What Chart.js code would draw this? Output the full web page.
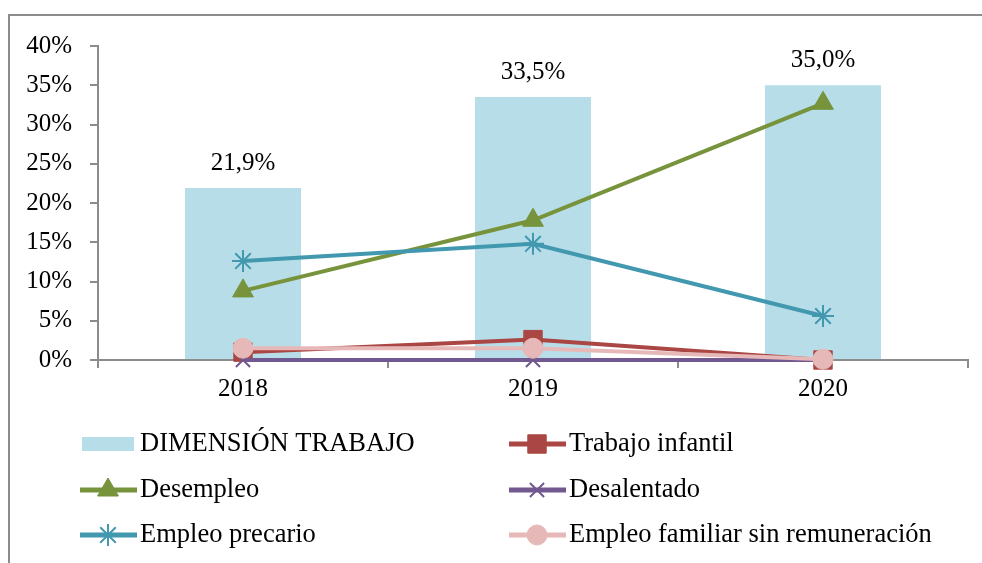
<!DOCTYPE html>
<html>
<head>
<meta charset="utf-8">
<script src="https://cdn.jsdelivr.net/npm/chart.js@4"></script>
<style>
    html, body { margin: 0; padding: 0; background: #fff; overflow: hidden; }
    #frame {
        position: absolute; left: 8px; top: 14px;
        width: 1100px; height: 700px;
        border: 2px solid #8c8c8c; box-sizing: border-box;
    }
    #wrap { position: absolute; left: 0; top: 0; width: 982px; height: 563px; }
</style>
</head>
<body>
<div id="frame"></div>
<div id="wrap"><canvas id="chart"></canvas></div>
<script>
// Data
const years = ['2018', '2019', '2020'];
const dimensionTrabajo = [21.9, 33.5, 35.0];
const trabajoInfantil = [1.0, 2.6, 0];
const desempleo = [8.8, 17.8, 32.7];
const desalentado = [0, 0, 0];
const empleoPrecario = [12.6, 14.8, 5.6];
const empleoFamiliar = [1.5, 1.5, 0.1];
const yTicks = [0, 5, 10, 15, 20, 25, 30, 35, 40];

const FONT = '"Liberation Serif", "Times New Roman", serif';
const AXIS = '#8c8c8c';

function lineSet(label, data, color, style, radius, order, fill) {
    return {
        type: 'line',
        label: label,
        data: data,
        borderColor: color,
        borderWidth: 4,
        pointStyle: style,
        pointRadius: radius,
        pointHoverRadius: radius,
        pointBackgroundColor: fill ? color : 'transparent',
        pointBorderColor: color,
        pointBorderWidth: fill ? 1 : 2,
        tension: 0,
        clip: false,
        order: order
    };
}

// bar value labels like "21,9%"
const barLabels = {
    id: 'barLabels',
    afterDatasetsDraw(chart) {
        const ctx = chart.ctx;
        const meta = chart.getDatasetMeta(0);
        ctx.save();
        ctx.font = '25px ' + FONT;
        ctx.fillStyle = '#000';
        ctx.textAlign = 'center';
        ctx.textBaseline = 'middle';
        meta.data.forEach((bar, i) => {
            const v = chart.data.datasets[0].data[i];
            ctx.fillText(v.toFixed(1).replace('.', ',') + '%', bar.x, bar.y - 25);
        });
        ctx.restore();
    }
};

// two-column legend under the axis
const gridLegend = {
    id: 'gridLegend',
    afterDraw(chart) {
        const ctx = chart.ctx;
        const cols = [80, 509];
        const rows = [444, 490, 535];
        ctx.save();
        ctx.font = '26.5px ' + FONT;
        ctx.textBaseline = 'middle';
        chart.data.datasets.forEach((ds, i) => {
            const x = cols[i % 2];
            const y = rows[Math.floor(i / 2)];
            if (ds.type === 'bar') {
                ctx.fillStyle = ds.backgroundColor;
                ctx.fillRect(x + 2, y - 7, 52, 14);
            } else {
                ctx.strokeStyle = ds.borderColor;
                ctx.lineWidth = 5;
                ctx.beginPath();
                ctx.moveTo(x, y);
                ctx.lineTo(x + 57, y);
                ctx.stroke();
                ctx.fillStyle = ds.pointBackgroundColor;
                ctx.strokeStyle = ds.pointBorderColor;
                ctx.lineWidth = ds.pointBorderWidth;
                Chart.helpers.drawPoint(ctx, {
                    pointStyle: ds.pointStyle,
                    radius: ds.pointRadius,
                    rotation: 0,
                    borderWidth: ds.pointBorderWidth
                }, x + 28, y);
            }
            ctx.fillStyle = '#000';
            ctx.fillText(ds.label, x + 60, y);
        });
        ctx.restore();
    }
};

new Chart(document.getElementById('chart').getContext('2d'), {
    data: {
        labels: years,
        datasets: [
            {
                type: 'bar',
                label: 'DIMENSIÓN TRABAJO',
                data: dimensionTrabajo,
                backgroundColor: '#B7DEE8',
                barPercentage: 0.4,
                categoryPercentage: 1,
                order: 10
            },
            lineSet('Trabajo infantil', trabajoInfantil, '#AA4643', 'rect', 13, 5, true),
            lineSet('Desempleo', desempleo, '#77933C', 'triangle', 12, 4, true),
            lineSet('Desalentado', desalentado, '#71588F', 'crossRot', 10, 3, false),
            lineSet('Empleo precario', empleoPrecario, '#4198AF', 'star', 11, 2, false),
            lineSet('Empleo familiar sin remuneración', empleoFamiliar, '#E6B9B8', 'circle', 10, 1, true)
        ]
    },
    options: {
        responsive: true,
        maintainAspectRatio: false,
        animation: false,
        layout: { padding: { left: 0, top: 46, right: 14, bottom: 0 } },
        plugins: {
            legend: { display: false },
            tooltip: { enabled: false }
        },
        scales: {
            x: {
                grid: {
                    offset: true,
                    drawOnChartArea: false,
                    drawTicks: true,
                    tickLength: 8,
                    color: AXIS,
                    lineWidth: 2
                },
                border: { color: AXIS, width: 2 },
                ticks: {
                    color: '#000',
                    font: { family: FONT, size: 25 },
                    padding: 6
                },
                afterFit(scale) { scale.height = 203; }
            },
            y: {
                min: 0,
                max: 40,
                afterBuildTicks(scale) {
                    scale.ticks = yTicks.map(v => ({ value: v }));
                },
                grid: {
                    drawOnChartArea: false,
                    drawTicks: true,
                    tickLength: 8,
                    color: AXIS,
                    lineWidth: 2
                },
                border: { color: AXIS, width: 2 },
                ticks: {
                    color: '#000',
                    font: { family: FONT, size: 25 },
                    padding: 18,
                    callback: v => v + '%'
                },
                afterFit(scale) { scale.width = 98; }
            }
        }
    },
    plugins: [barLabels, gridLegend]
});
</script>
</body>
</html>
